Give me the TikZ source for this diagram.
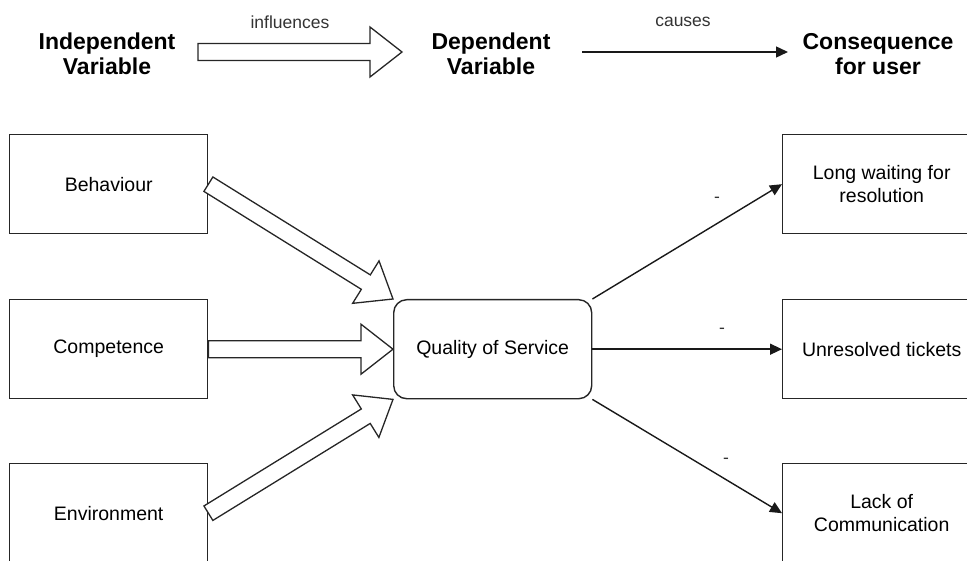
\documentclass[tikz,border=0pt]{standalone}
\usepackage{fontspec}
\setmainfont{Liberation Sans}
\usetikzlibrary{calc,arrows.meta}
\newcommand\fatarrow[2]{%
  \draw[fatline]
    ($(#1)!8.5pt!90:(#2)$) --
    ($($(#2)!32pt!(#1)$)!8.5pt!90:(#2)$) --
    ($($(#2)!32pt!(#1)$)!25pt!90:(#2)$) --
    (#2) --
    ($($(#2)!32pt!(#1)$)!25pt!-90:(#2)$) --
    ($($(#2)!32pt!(#1)$)!8.5pt!-90:(#2)$) --
    ($(#1)!8.5pt!-90:(#2)$) -- cycle;}
\begin{document}
\begin{tikzpicture}[x=1pt,y=-1pt,
  box/.style={draw=black!85, line width=1.4pt, minimum width=198pt, minimum height=99pt,
    inner sep=0pt, anchor=north west, align=center, font=\fontsize{19.5}{23}\selectfont},
  qos/.style={box, rounded corners=13pt},
  head/.style={font=\fontsize{23}{25}\selectfont\bfseries, align=center},
  lbl/.style={font=\fontsize{17.5}{20}\selectfont, text=black!80},
  fatline/.style={draw=black!85, line width=1.3pt, fill=white, line join=miter},
  thin/.style={draw=black!90, line width=1.4pt, -{Triangle[length=12pt,width=11pt]}}]
\useasboundingbox (0,0) rectangle (967,561);
\begin{scope}
\clip (0,0) rectangle (967,561);
% header
\node[head] (ind) at (107,54) {Independent\\Variable};
\node[head] (dep) at (491,54) {Dependent\\Variable};
\node[head] (con) at (878,54) {Consequence\\for user};
\coordinate (h1a) at (198,52);
\coordinate (h1b) at (402,52);
\coordinate (h2a) at (582,52);
\coordinate (h2b) at (788,52);
\fatarrow{h1a}{h1b}
\draw[thin] (h2a) -- (h2b);
\node[lbl] (linf) at (290,22) {influences};
\node[lbl] (lcau) at (683,22) {causes};
% boxes
\node[box] (beh) at (9,134) {Behaviour};
\node[box] (com) at (9,299) {Competence};
\node[box] (env) at (9,463) {Environment};
\node[qos] (q) at (393,299) {Quality of Service};
\node[box] (lw) at (782,134) {Long waiting for\\resolution};
\node[box] (ur) at (782,299) {Unresolved tickets};
\node[box] (lc) at (782,463) {Lack of\\Communication};
% fat arrows
\fatarrow{beh.east}{q.north west}
\fatarrow{com.east}{q.west}
\fatarrow{env.east}{q.south west}
% thin arrows
\draw[thin] (q.north east) -- (lw.west);
\draw[thin] (q.east) -- (ur.west);
\draw[thin] (q.south east) -- (lc.west);
\node[lbl] (m1) at (717,200) {-};
\node[lbl] (m2) at (722,331) {-};
\node[lbl] (m3) at (726,461) {-};
\end{scope}
\end{tikzpicture}
\end{document}
